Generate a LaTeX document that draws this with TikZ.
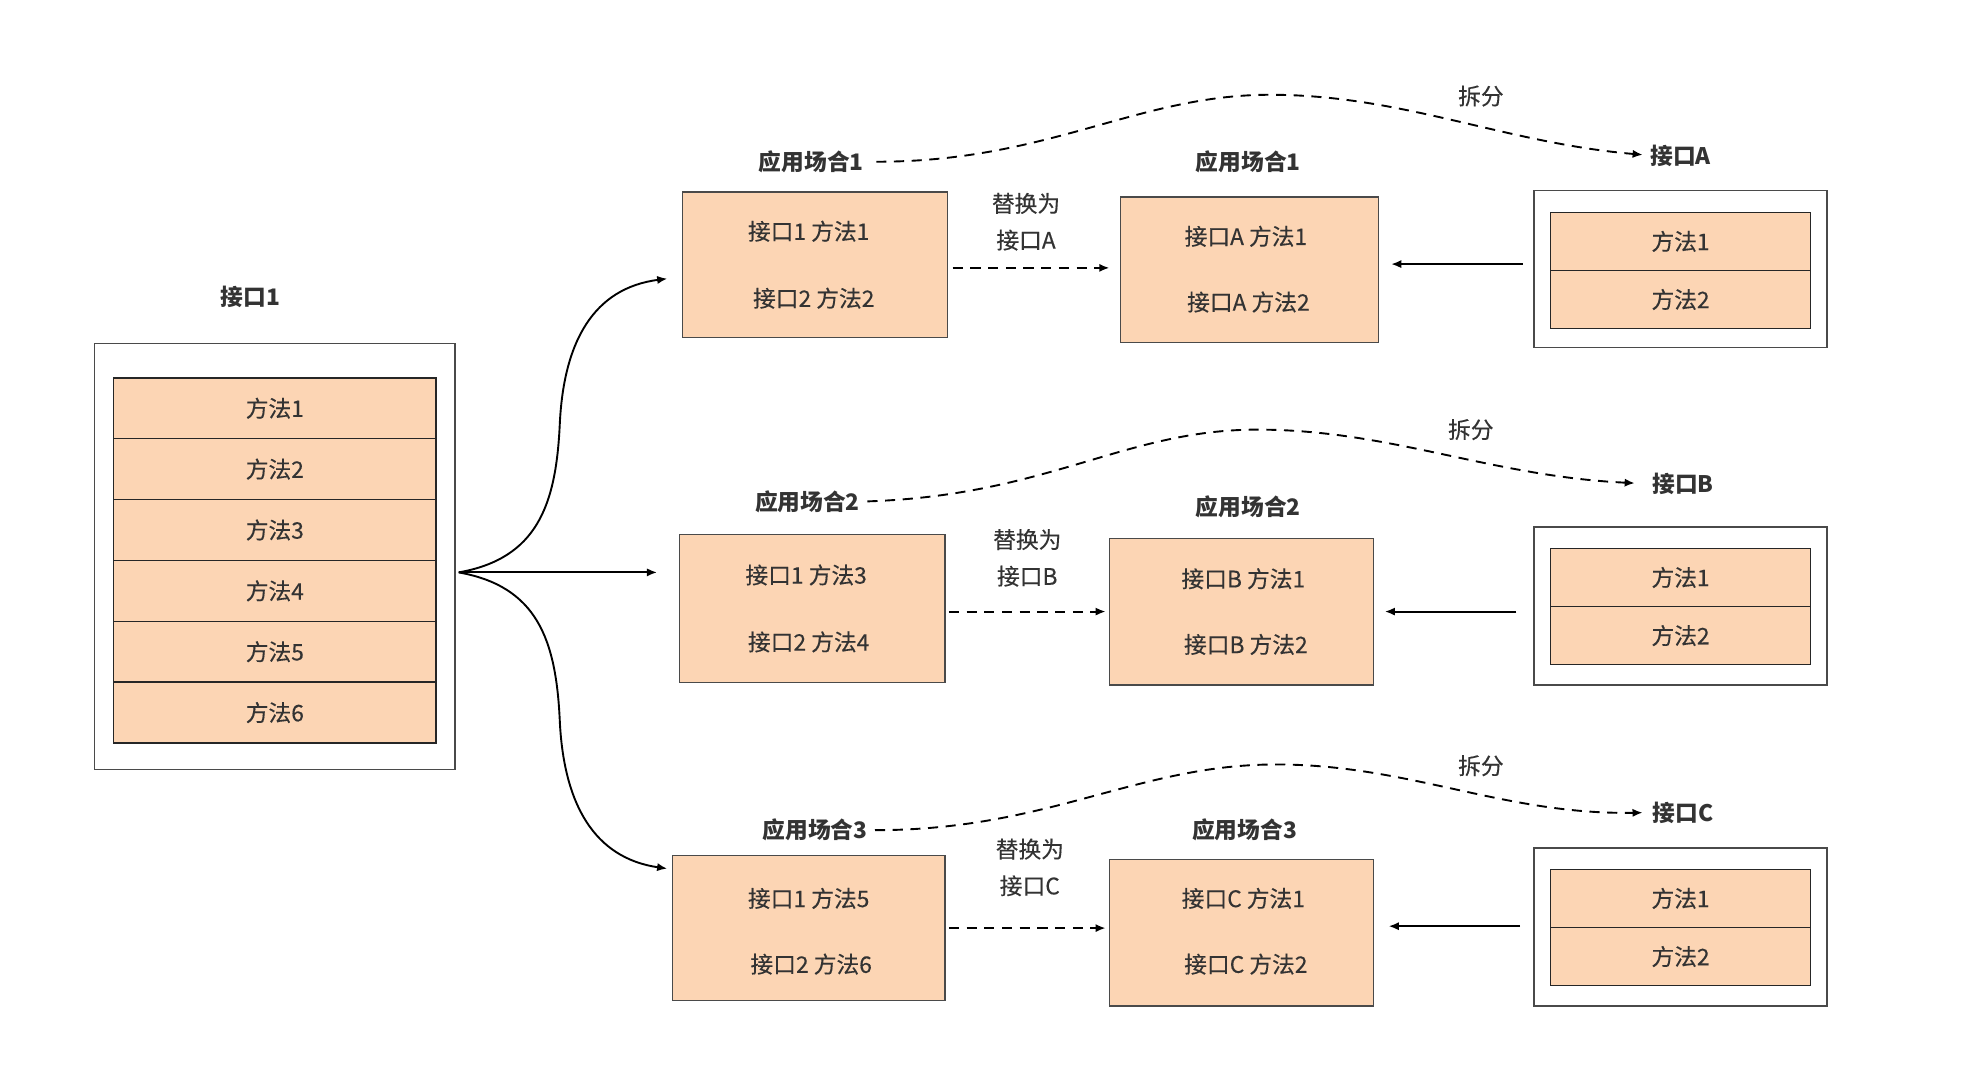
\documentclass[tikz,border=0pt]{standalone}
\usepackage{fontspec}
\setmainfont{Noto Sans CJK SC}[UprightFeatures={FakeBold=0.3}]
\usetikzlibrary{arrows.meta}
\definecolor{peach}{HTML}{FCD5B4}
\definecolor{txt}{HTML}{333333}
\definecolor{edge}{HTML}{4A4A4A}
\begin{document}
\begin{tikzpicture}[x=1pt,y=-1pt,
  every node/.style={inner sep=0pt, outer sep=0pt, text=txt, font=\fontsize{18}{21}\selectfont},
  lbl/.style={font=\fontsize{18}{21}\selectfont\bfseries},
  outerbox/.style={draw=edge, line width=1.1pt, fill=white},
  cell/.style={draw=black!85, line width=1.1pt, fill=peach},
  pbox/.style={draw=edge, line width=1.1pt, fill=peach},
  tip/.style={-{Latex[length=8pt,width=6.5pt]}},
  conn/.style={tip, line width=1.5pt, black},
  dconn/.style={tip, line width=1.5pt, black, dash pattern=on 8pt off 6pt},
]
\useasboundingbox (0,0) rectangle (1567,854.7);
\fill[white] (0,0) rectangle (1567,854.7);

% ---------- left interface ----------
\node[lbl] (i1) at (198,235) {接口1};
\node[outerbox, minimum width=285pt, minimum height=337pt] (L) at (217.5,440.5) {};
\foreach \k in {1,...,6}{
  \node[cell, minimum width=255pt, minimum height=48.17pt] (m\k) at (217.5,{299+24.08+48.17*(\k-1)}) {方法\k};
}
\coordinate (fan) at (363,453);

% ---------- row 1 ----------
\node[lbl] (s11) at (642,128) {应用场合1};
\node[pbox, minimum width=210pt, minimum height=115pt] (b11) at (645,209.5) {};
\node (t111) at (640,183) {接口1 方法1};
\node (t112) at (644,236) {接口2 方法2};
\node (r1a) at (812,161) {替换为};
\node (r1b) at (812,190) {接口A};
\node[lbl] (s12) at (988,128) {应用场合1};
\node[pbox, minimum width=204pt, minimum height=115pt] (b12) at (989,213.5) {};
\node (t121) at (986,187) {接口A 方法1};
\node (t122) at (988,239) {接口A 方法2};
\node[outerbox, minimum width=232pt, minimum height=124pt] (o1) at (1330,213) {};
\node[cell, minimum width=206pt, minimum height=46pt] (o1a) at (1330,191) {方法1};
\node[cell, minimum width=206pt, minimum height=46pt] (o1b) at (1330,237) {方法2};
\node[lbl] (iA) at (1330,123) {接口A};
\node (c1) at (1172,76) {拆分};

% ---------- row 2 ----------
\node[lbl] (s21) at (639,397) {应用场合2};
\node[pbox, minimum width=210pt, minimum height=117pt] (b21) at (643,481.5) {};
\node (t211) at (638,455) {接口1 方法3};
\node (t212) at (640,508) {接口2 方法4};
\node (r2a) at (813,427) {替换为};
\node (r2b) at (813,456) {接口B};
\node[lbl] (s22) at (988,401) {应用场合2};
\node[pbox, minimum width=209pt, minimum height=116pt] (b22) at (982.5,484) {};
\node (t221) at (984,458) {接口B 方法1};
\node (t222) at (986,510) {接口B 方法2};
\node[outerbox, minimum width=232pt, minimum height=125pt] (o2) at (1330,479.5) {};
\node[cell, minimum width=206pt, minimum height=46pt] (o2a) at (1330,457) {方法1};
\node[cell, minimum width=206pt, minimum height=46pt] (o2b) at (1330,503) {方法2};
\node[lbl] (iB) at (1332,383) {接口B};
\node (c2) at (1164,340) {拆分};

% ---------- row 3 ----------
\node[lbl] (s31) at (645,657) {应用场合3};
\node[pbox, minimum width=216pt, minimum height=115pt] (b31) at (640,734.5) {};
\node (t311) at (640,711) {接口1 方法5};
\node (t312) at (642,763) {接口2 方法6};
\node (r3a) at (815,672) {替换为};
\node (r3b) at (815,701) {接口C};
\node[lbl] (s32) at (985,657) {应用场合3};
\node[pbox, minimum width=209pt, minimum height=116pt] (b32) at (982.5,738) {};
\node (t321) at (984,711) {接口C 方法1};
\node (t322) at (986,763) {接口C 方法2};
\node[outerbox, minimum width=232pt, minimum height=125pt] (o3) at (1330,733.5) {};
\node[cell, minimum width=206pt, minimum height=46pt] (o3a) at (1330,711) {方法1};
\node[cell, minimum width=206pt, minimum height=46pt] (o3b) at (1330,757) {方法2};
\node[lbl] (iC) at (1332,643) {接口C};
\node (c3) at (1172,606) {拆分};

% ---------- fan out ----------
\draw[conn, shorten >=12pt] (fan) .. controls (425,442) and (440,400) .. (443,336)
   .. controls (446,270) and (470,228) .. ([yshift=-9.5pt]b11.west);
\draw[conn, shorten >=18pt] (fan) -- (fan -| b21.west);
\draw[conn, shorten >=4pt] (fan) .. controls (425,464) and (440,506) .. (443,570)
   .. controls (446,636) and (470,679) .. ([yshift=46.5pt]b31.west);

% ---------- replace arrows ----------
\draw[dconn, shorten <=4pt, shorten >=9pt] ([yshift=-2.5pt]b11.east) -- ([yshift=-2.5pt]b11.east -| b12.west);
\draw[dconn, shorten <=3pt, shorten >=3pt] ([yshift=-2.5pt]b21.east) -- ([yshift=-2.5pt]b21.east -| b22.west);
\draw[dconn, shorten <=3pt, shorten >=3pt] ([yshift=0pt]b31.east) -- ([yshift=0pt]b31.east -| b32.west);

% ---------- solid arrows ----------
\draw[conn, shorten <=9pt, shorten >=10pt] ([yshift=4pt]o1.west) -- ([yshift=4pt]o1.west -| b12.east);
\draw[conn, shorten <=14pt, shorten >=9pt] ([yshift=-4.5pt]o2.west) -- ([yshift=-4.5pt]o2.west -| b22.east);
\draw[conn, shorten <=11pt, shorten >=12pt] ([yshift=0.5pt]o3.west) -- ([yshift=0.5pt]o3.west -| b32.east);

% ---------- split curves ----------
\draw[dconn, shorten <=10pt, shorten >=6pt] (s11.east) .. controls (830,128) and (900,75) .. (1005,75)
   .. controls (1110,75) and (1190,113) .. (iA.west);
\draw[dconn, shorten <=6pt, shorten >=14pt] (s21.east) .. controls (830,392) and (890,340) .. (995,340)
   .. controls (1100,340) and (1180,377) .. (iB.west);
\draw[dconn, shorten <=6pt, shorten >=8pt] (s31.east) .. controls (830,657) and (900,605) .. (1010,605)
   .. controls (1115,605) and (1190,645) .. (iC.west);
\end{tikzpicture}
\end{document}
